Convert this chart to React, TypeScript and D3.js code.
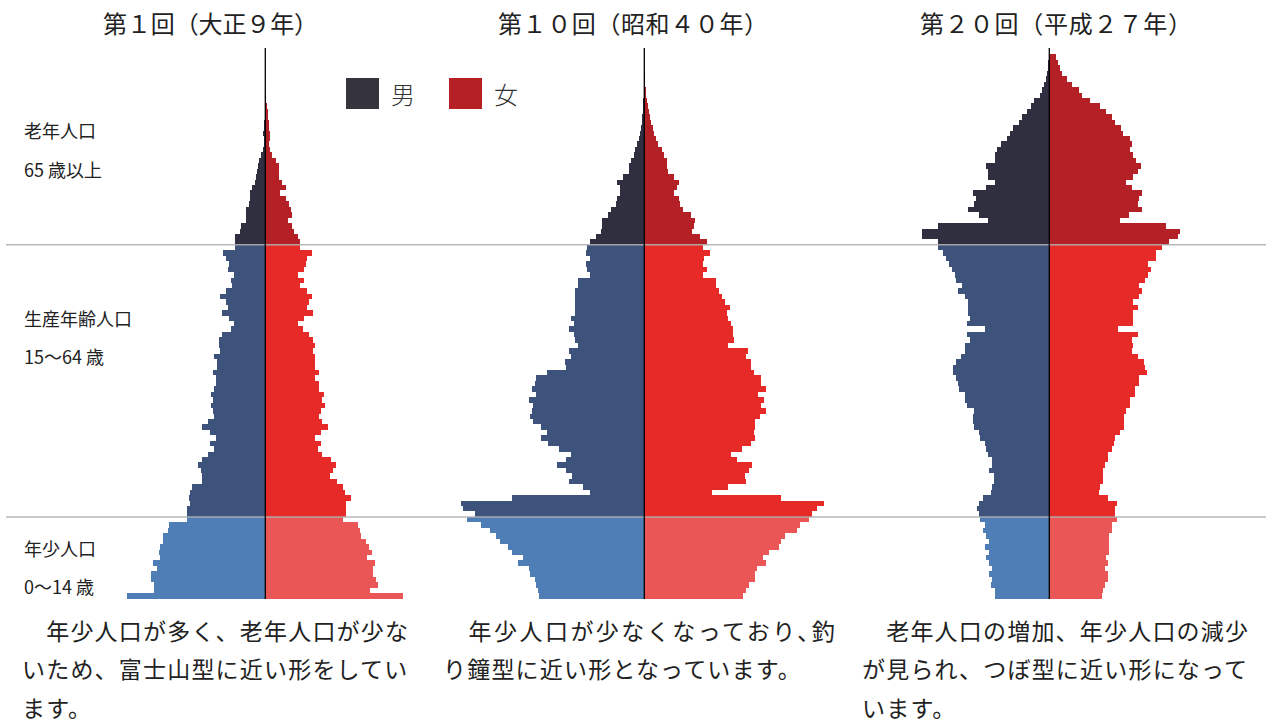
import { useEffect, useRef } from 'react'
import * as d3 from 'd3'

// 各歳（0〜100歳）の人口。単位：万人（図からの読み取り値）
const AGES = d3.range(0, 101)

const TITLES = ['第１回（大正９年）', '第１０回（昭和４０年）', '第２０回（平成２７年）']

const MALE_1920 = [
  92, 74, 74, 76, 76, 72, 75, 70, 71, 70,
  68, 68, 65, 64, 52, 52, 52, 50, 51, 50,
  49, 42, 42, 43, 45, 42, 38, 34, 37, 33,
  37, 42, 38, 34, 35, 36, 35, 36, 34, 33,
  33, 35, 32, 32, 34, 30, 31, 31, 29, 23,
  21, 24, 29, 25, 26, 30, 26, 22, 23, 21,
  25, 24, 26, 28, 20, 20, 20, 17, 16, 13,
  13, 13, 11, 10, 10, 9, 7, 6, 5.5, 5,
  4, 2.7, 1.5, 1.1, 0.9, 1.3, 0.9, 0.7, 0.5, 0.3,
  0.2, 0.1, 0.1, 0, 0, 0, 0, 0, 0, 0, 0
]
const FEMALE_1920 = [
  92, 70, 75, 74, 72, 72, 73, 68, 71, 69,
  67, 64, 63, 62, 52, 54, 54, 54, 57, 53,
  52, 48, 43, 45, 47, 44, 38, 35, 37, 33,
  37, 42, 38, 36, 37, 40, 38, 39, 36, 36,
  33, 36, 33, 33, 33, 32, 33, 32, 29, 25,
  22, 26, 32, 28, 29, 31, 28, 23, 26, 22,
  26, 27, 28, 31, 23, 23, 22, 19, 18, 15,
  18, 17, 16, 14, 10, 14, 11, 9, 9, 9,
  7, 4.5, 3.3, 2.7, 3.1, 2.9, 2.5, 2.5, 2, 1.5,
  1.1, 0.7, 0.3, 0.1, 0, 0, 0, 0, 0, 0, 0
]
const MALE_1965 = [
  70, 71, 72, 73, 76, 77, 84, 81, 88, 91,
  96, 99, 103, 109, 118, 113, 121, 122, 88, 36,
  41, 50, 48, 52, 58, 52, 49, 57, 64, 69,
  65, 69, 74, 76, 75, 74, 77, 72, 75, 73,
  72, 65, 52, 53, 49, 50, 44, 46, 47, 50,
  47, 49, 46, 46, 46, 46, 46, 44, 44, 36,
  38, 39, 36, 39, 38, 36, 32, 29, 28, 28,
  24, 22, 19, 18, 16, 16, 18, 14, 10, 10,
  9, 7, 6, 5, 3.5, 2.9, 2.2, 1.5, 1.3, 0.9,
  0.7, 0.7, 0.5, 0.3, 0.2, 0.1, 0, 0, 0, 0, 0
]
const FEMALE_1965 = [
  66, 68, 70, 74, 74, 75, 81, 79, 83, 90,
  91, 94, 102, 104, 110, 112, 115, 120, 91, 45,
  56, 68, 67, 70, 72, 62, 58, 65, 71, 74,
  73, 74, 74, 77, 81, 78, 80, 76, 81, 78,
  78, 73, 71, 71, 68, 69, 56, 60, 59, 59,
  58, 56, 55, 57, 54, 52, 50, 48, 48, 39,
  42, 39, 40, 44, 39, 42, 37, 32, 33, 34,
  31, 26, 24, 23, 20, 22, 23, 20, 16, 15,
  15, 13, 12, 9, 8, 6.5, 5.8, 4.5, 3.8, 3.1,
  2.5, 1.8, 1.1, 0.9, 0.5, 0.3, 0.2, 0.1, 0, 0, 0
]
const MALE_2015 = [
  36, 36, 39, 38, 40, 38, 40, 42, 40, 43,
  40, 42, 44, 43, 46, 47, 48, 47, 44, 39,
  38, 37, 37, 40, 38, 38, 41, 42, 43, 46,
  47, 50, 51, 51, 50, 55, 56, 56, 60, 61,
  62, 64, 64, 62, 59, 56, 56, 53, 55, 43,
  55, 53, 54, 54, 54, 56, 61, 58, 62, 63,
  65, 67, 69, 71, 74, 74, 85, 85, 74, 41,
  47, 54, 50, 49, 51, 42, 36, 41, 41, 42,
  36, 36, 35, 32, 28, 26, 24, 20, 18, 15,
  12, 10, 6, 5, 3.5, 2.2, 1.5, 1.1, 0.7, 0.5, 0.2
]
const FEMALE_2015 = [
  35, 36, 37, 39, 39, 37, 39, 38, 40, 40,
  40, 40, 42, 42, 45, 44, 44, 45, 39, 33,
  34, 36, 36, 36, 37, 39, 39, 42, 43, 44,
  47, 50, 50, 50, 51, 54, 54, 57, 57, 60,
  60, 65, 64, 63, 59, 55, 56, 55, 59, 46,
  56, 56, 56, 59, 56, 60, 62, 60, 64, 66,
  68, 66, 71, 71, 75, 80, 86, 87, 78, 47,
  53, 62, 59, 60, 62, 55, 51, 56, 59, 61,
  58, 56, 54, 55, 54, 49, 48, 44, 42, 38,
  34, 27, 22, 20, 15, 12, 8.5, 7, 6, 4.5, 0
]

const GROUP_LABELS = [
  ['老年人口', '65 歳以上'],
  ['生産年齢人口', '15～64 歳'],
  ['年少人口', '0～14 歳']
]

const LEGEND = ['男', '女']

const COMMENTS = [
  ['　年少人口が多く、老年人口が少な', 'いため、富士山型に近い形をしてい', 'ます。'],
  ['　年少人口が少なくなっており､釣', 'り鐘型に近い形となっています。'],
  ['　老年人口の増加、年少人口の減少', 'が見られ、つぼ型に近い形になって', 'います。']
]

const W = 1269
const H = 724
const FONT = "'Noto Sans CJK JP', 'Noto Sans', sans-serif"

const COLORS = {
  male: { old: '#302f40', work: '#3e537b', young: '#4f7eb6' },
  female: { old: '#b32025', work: '#e62a27', young: '#ea5656' }
}

function group(age: number): 'old' | 'work' | 'young' {
  if (age >= 65) return 'old'
  if (age >= 15) return 'work'
  return 'young'
}

export default function App() {
  const svgRef = useRef<SVGSVGElement>(null)

  useEffect(() => {
    if (!svgRef.current) return
    const svg = d3.select(svgRef.current)
    svg.selectAll('*').remove()

    const pyramids = [
      { title: TITLES[0], male: MALE_1920, female: FEMALE_1920, cx: 265.3, tx: 103, tw: 215 },
      { title: TITLES[1], male: MALE_1965, female: FEMALE_1965, cx: 644.3, tx: 498, tw: 270 },
      { title: TITLES[2], male: MALE_2015, female: FEMALE_2015, cx: 1049.3, tx: 920, tw: 272 }
    ]

    const y = d3.scaleBand<number>()
      .domain([...AGES].reverse())
      .range([49, 598.5])
      .padding(0)

    const x = d3.scaleLinear().domain([0, 100]).range([0, 150])

    pyramids.forEach(p => {
      const g = svg.append('g').attr('transform', `translate(${p.cx},0)`)

      g.selectAll('rect.m')
        .data(AGES)
        .enter()
        .append('rect')
        .attr('class', 'm')
        .attr('x', a => -x(p.male[a]))
        .attr('y', a => y(a) as number)
        .attr('width', a => x(p.male[a]))
        .attr('height', y.bandwidth())
        .attr('fill', a => COLORS.male[group(a)])
        .attr('shape-rendering', 'crispEdges')

      g.selectAll('rect.f')
        .data(AGES)
        .enter()
        .append('rect')
        .attr('class', 'f')
        .attr('x', 0)
        .attr('y', a => y(a) as number)
        .attr('width', a => x(p.female[a]))
        .attr('height', y.bandwidth())
        .attr('fill', a => COLORS.female[group(a)])
        .attr('shape-rendering', 'crispEdges')

      // title
      svg.append('text')
        .attr('x', p.tx)
        .attr('y', 22)
        .attr('textLength', p.tw)
        .attr('lengthAdjust', 'spacing')
        .attr('dominant-baseline', 'central')
        .style('font-family', FONT)
        .style('font-size', '24px')
        .style('fill', '#222')
        .text(p.title)
    })

    // age group dividers
    ;[64, 14].forEach(a => {
      svg.append('line')
        .attr('x1', 6)
        .attr('x2', 1266)
        .attr('y1', y(a) as number)
        .attr('y2', y(a) as number)
        .attr('stroke', '#b0b0b0')
        .attr('stroke-opacity', 0.9)
        .attr('stroke-width', 1.5)
    })

    // center axes
    pyramids.forEach(p => {
      svg.append('line')
        .attr('x1', p.cx)
        .attr('x2', p.cx)
        .attr('y1', 48)
        .attr('y2', 599)
        .attr('stroke', '#000')
        .attr('stroke-width', 1.3)
    })

    // group labels
    const labelY = [[130, 169], [318, 356], [548, 586]]
    GROUP_LABELS.forEach((lines, i) => {
      lines.forEach((t, j) => {
        svg.append('text')
          .attr('x', 24)
          .attr('y', labelY[i][j])
          .attr('dominant-baseline', 'central')
          .style('font-family', FONT)
          .style('font-size', '18px')
          .style('fill', '#222')
          .text(t)
      })
    })

    // legend
    const legendX = [346, 449]
    LEGEND.forEach((t, i) => {
      svg.append('rect')
        .attr('x', legendX[i])
        .attr('y', 78)
        .attr('width', 33)
        .attr('height', 31)
        .attr('fill', i === 0 ? '#35333b' : '#b52025')
      svg.append('text')
        .attr('x', legendX[i] + 45)
        .attr('y', 93)
        .attr('dominant-baseline', 'central')
        .style('font-family', FONT)
        .style('font-weight', 300)
        .style('font-size', '24px')
        .style('fill', '#333')
        .text(t)
    })

    // comments
    const colX = [22, 443, 862]
    const lineY = [630, 668, 707]
    const lineW: Record<string, number> = { '1-0': 393 }
    COMMENTS.forEach((lines, i) => {
      lines.forEach((t, j) => {
        const txt = svg.append('text')
          .attr('x', colX[i])
          .attr('y', lineY[j])
          .attr('dominant-baseline', 'central')
          .style('font-family', FONT)
          .style('font-size', '23px')
          .style('letter-spacing', '1.2px')
          .style('fill', '#222')
          .text(t)
        const w = lineW[`${i}-${j}`]
        if (w) txt.attr('textLength', w).attr('lengthAdjust', 'spacing')
      })
    })
  }, [])

  return (
    <svg
      ref={svgRef}
      width={W}
      height={H}
      style={{ position: 'absolute', left: 0, top: 0, background: '#fff' }}
    />
  )
}
